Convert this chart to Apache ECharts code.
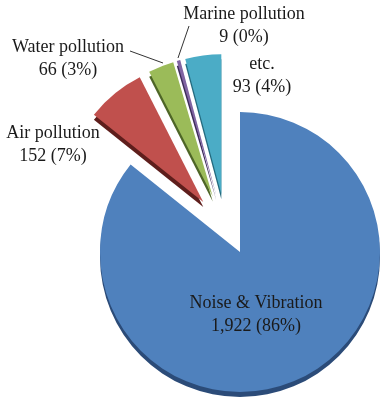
<!DOCTYPE html>
<html>
<head>
<meta charset="utf-8">
<script src="https://cdn.jsdelivr.net/npm/echarts@6/dist/echarts.min.js"></script>
<style>
  html, body { margin: 0; padding: 0; background: #fff; }
  #chart { width: 383px; height: 403px; }
</style>
</head>
<body>
<div id="chart"></div>
<script>
// Complaint counts by category
const categories = ['Noise & Vibration', 'Air pollution', 'Water pollution', 'Marine pollution', 'etc.'];
const counts = [1922, 152, 66, 9, 93];

// Face and side (depth) colours per category
const faceColors = ['#4F81BD', '#C0504D', '#9BBB59', '#8064A2', '#4BACC6'];
const sideColors = ['#2B4B78', '#5E1E1C', '#4E6627', '#3E2C5A', '#236A7E'];

// Label anchor points (centre of the two-line label) per category
const labelAnchors = [[256, 315], [53, 145], [68, 59], [244, 26], [262, 76]];

const mainCenter = [240, 252];
const smallCenter = [226, 230];
const radius = 140;
const depth = 5;
const clear = 'rgba(0,0,0,0)';

const fmtNum = v => v.toLocaleString('en-US');
const labelFormatter = p => p.name + '\n' + fmtNum(p.value) + ' (' + Math.round(p.percent) + '%)';

const baseSeries = {
  type: 'pie',
  radius: radius,
  startAngle: 90,
  clockwise: true,
  avoidLabelOverlap: false,
  silent: true,
  animation: false,
  emphasis: { disabled: true },
  itemStyle: { borderWidth: 0 },
  labelLine: { show: false }
};

// One pie layer of sectors only. `keepBig` picks the big slice or the pulled-out small ones.
function layer(keepBig, isSide) {
  const data = categories.map((name, i) => {
    const visible = keepBig ? i === 0 : i !== 0;
    return {
      name: name,
      value: counts[i],
      selected: !keepBig && i !== 0,
      itemStyle: { color: visible ? (isSide ? sideColors[i] : faceColors[i]) : clear }
    };
  });
  const c = keepBig ? mainCenter : smallCenter;
  return Object.assign({}, baseSeries, {
    center: [c[0], c[1] + (isSide ? depth : 0)],
    selectedMode: 'multiple',
    selectedOffset: 36,
    label: { show: false },
    data: data
  });
}

// Transparent layer carrying the category labels
const labelLayer = Object.assign({}, baseSeries, {
  center: mainCenter,
  z: 5,
  label: {
    show: true,
    position: 'inside',
    formatter: labelFormatter,
    fontFamily: 'Liberation Serif',
    fontSize: 18,
    lineHeight: 23,
    color: '#1a1a1a',
    align: 'center'
  },
  labelLayout: function (params) {
    const a = labelAnchors[params.dataIndex];
    return { x: a[0], y: a[1], align: 'center', verticalAlign: 'middle' };
  },
  data: categories.map((name, i) => ({ name: name, value: counts[i], itemStyle: { color: clear } }))
});

// Leader lines for the two labels sitting away from their slices
const leaderStyle = { stroke: '#333', lineWidth: 1 };
const leaders = [
  [[130, 51], [163, 63]],
  [[189, 26], [178, 58]]
];

const chart = echarts.init(document.getElementById('chart'), null, { renderer: 'canvas' });
chart.setOption({
  backgroundColor: '#ffffff',
  animation: false,
  graphic: leaders.map(l => ({
    type: 'line',
    z: 10,
    shape: { x1: l[0][0], y1: l[0][1], x2: l[1][0], y2: l[1][1] },
    style: leaderStyle,
    silent: true
  })),
  series: [
    layer(true, true),
    layer(true, false),
    layer(false, true),
    layer(false, false),
    labelLayer
  ]
});
</script>
</body>
</html>
